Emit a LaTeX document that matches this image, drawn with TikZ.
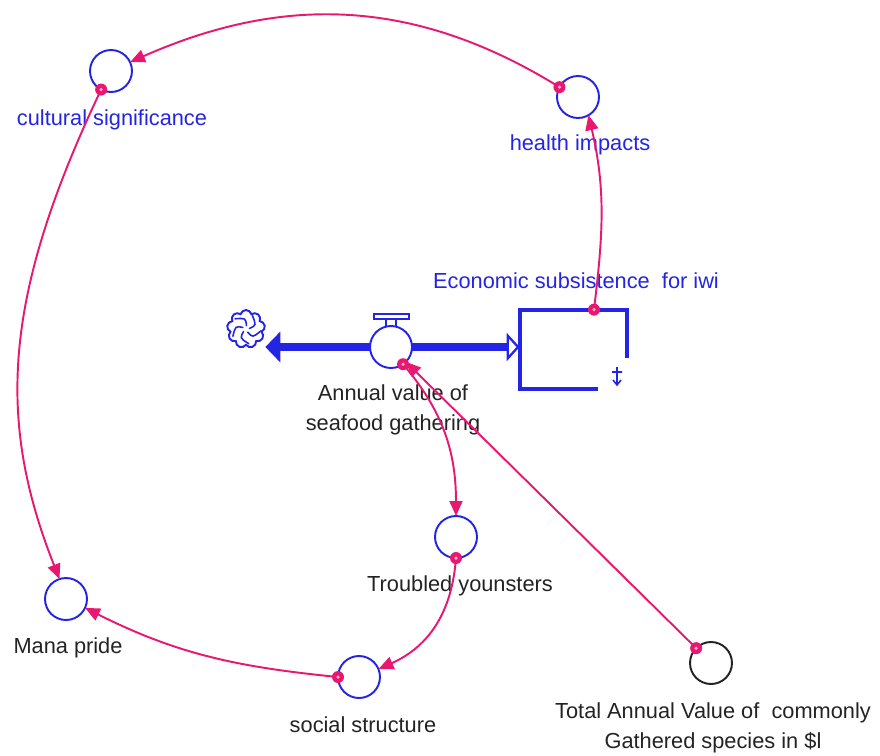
\documentclass[tikz,border=0pt]{standalone}
\usepackage{fontspec}
\setmainfont{Liberation Sans}
\usetikzlibrary{arrows.meta,shapes.symbols,calc}
\definecolor{vblue}{RGB}{36,36,228}
\definecolor{vpink}{RGB}{232,24,112}
\definecolor{vtext}{RGB}{35,35,35}
\tikzset{
  aux/.style={circle,draw=vblue,line width=1.1pt,fill=white,minimum size=0.84cm,inner sep=0pt,outer sep=0pt},
  const/.style={aux,draw=vtext},
  lbl/.style={text=vtext,font=\fontsize{12.4}{17}\selectfont,align=center,inner sep=0pt},
  blbl/.style={lbl,text=vblue},
  pipe/.style={draw=vblue,line width=0.16cm},
  conn/.style={draw=vpink,line width=1.1pt,-{Triangle[length=0.3cm,width=0.26cm]}},
  mk/.style={circle,fill=vpink,minimum size=0.24cm,inner sep=0pt,
    path picture={\fill[white!70!vpink] (path picture bounding box.center) circle (0.035cm);}}
}
\begin{document}
\begin{tikzpicture}[x=0.02cm,y=-0.02cm]
\useasboundingbox (0,0) rectangle (880,755);

% auxiliaries and constant
\node[aux] (cult) at (111,71) {};
\node[aux] (health) at (578,97) {};
\node[aux] (troubled) at (456,537) {};
\node[aux] (mana) at (66,599) {};
\node[aux] (social) at (359,677) {};
\node[const] (total) at (711,663) {};

% flow valve
\node[aux] (valve) at (391,347) {};
\draw[vblue,line width=1.2pt] (374,314) rectangle (409,319);
\draw[vblue,line width=1.1pt] (386,319) -- (386,326) (396,319) -- (396,326);

% source cloud with pinwheel swirl
\node[cloud,cloud puffs=9,aspect=1,draw=vblue,line width=1.1pt,minimum width=0.76cm,minimum height=0.76cm,inner sep=0pt] (cloud) at (246,329) {};
\foreach \a in {10,82,154,226,298}
  \draw[vblue,line width=0.9pt,line cap=round] ($(cloud.center)+(\a:0.07cm)$) .. controls ($(cloud.center)+(\a+10:0.22cm)$) .. ($(cloud.center)+(\a+55:0.3cm)$);

% stock (open box)
\node[minimum width=2.14cm,minimum height=1.58cm,inner sep=0pt] (stock) at (573.5,349.5) {};
\draw[vblue,line width=2.2pt,line cap=square]
  ([xshift=1.56cm]stock.south west) -- (stock.south west) -- (stock.north west)
  -- (stock.north east) -- ([yshift=-0.96cm]stock.north east);
\draw[vblue,line width=0.9pt] (612,372) -- (622,372) (617,367) -- (617,385) (613,380) -- (617,385) -- (621,380);

% pipes
\draw[pipe,-{Triangle[length=0.3cm,width=0.6cm]}] (valve.west) -- (valve.west -| cloud.east);
\draw[pipe,-{Triangle[open,fill=white,length=0.26cm,width=0.56cm,line width=1.3pt]}] (valve.east) -- (valve.east -| stock.west);

% labels
\node[blbl] (cultL) at (112,120) {cultural significance};
\node[blbl] (healthL) at (580,145) {health impacts};
\node[blbl] (stockL) at (576,281) {Economic subsistence\ \ for iwi};
\node[lbl] (valveL) at (393,410) {Annual value of\\seafood gathering};
\node[lbl] (troubledL) at (460,586) {Troubled younsters};
\node[lbl] (manaL) at (68,648) {Mana pride};
\node[lbl] (socialL) at (363,725) {social structure};
\node[lbl] (totalL) at (713,728) {Total Annual Value of\ \ commonly\\Gathered species in \$l};

% causal links
\draw[conn] (health.152) .. controls (414,-3) and (282,-5) .. (cult.25);
\draw[conn] ([xshift=0.41cm]stock.north) .. controls (603,235) and (606,190) .. (health.-60);
\draw[conn] (cult.-118) .. controls (2,298) and (-3,421) .. (mana.108);
\draw[conn] (social.180) .. controls (237,667) and (177,654) .. (mana.-25);
\draw[conn] (troubled.-90) .. controls (452,611) and (430,646) .. (social.22);
\draw[conn] (valve.-55) .. controls (443,411) and (456,452) .. (troubled.90);
\draw[conn] (total.135) -- (valve.-45);

% link origin markers
\node[mk] (m1) at (health.152) {};
\node[mk] (m2) at ([xshift=0.41cm]stock.north) {};
\node[mk] (m3) at (cult.-118) {};
\node[mk] (m4) at (social.180) {};
\node[mk] (m5) at (troubled.-90) {};
\node[mk] (m6) at (valve.-55) {};
\node[mk] (m7) at (total.135) {};
\end{tikzpicture}
\end{document}
